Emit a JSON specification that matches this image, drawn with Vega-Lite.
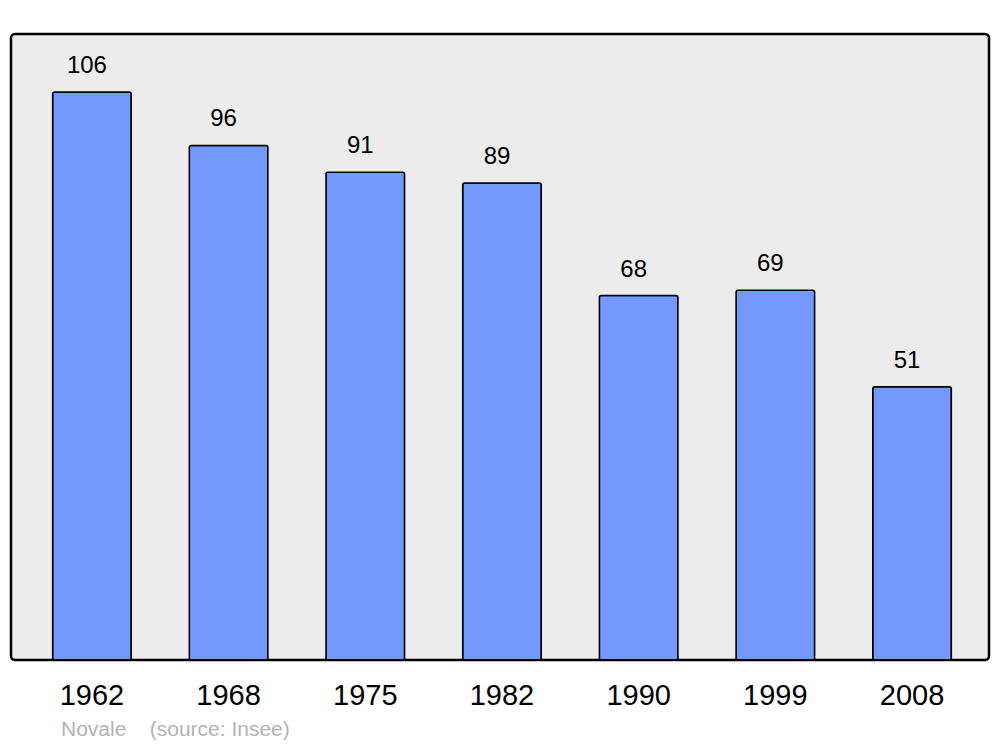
{
  "$schema": "https://vega.github.io/schema/vega-lite/v6.json",
  "width": 978,
  "height": 626,
  "autosize": {"type": "none"},
  "padding": {"left": 11, "top": 34, "right": 11, "bottom": 87},
  "background": "white",
  "data": {
    "values": [
      {"year": "1962", "pop": 106},
      {"year": "1968", "pop": 96},
      {"year": "1975", "pop": 91},
      {"year": "1982", "pop": 89},
      {"year": "1990", "pop": 68},
      {"year": "1999", "pop": 69},
      {"year": "2008", "pop": 51}
    ]
  },
  "title": {
    "text": "Novale\u00a0\u00a0\u00a0\u00a0(source: Insee)",
    "orient": "bottom",
    "anchor": "start",
    "font": "Liberation Sans",
    "fontSize": 21,
    "fontWeight": "normal",
    "color": "#b3b3b3",
    "dx": 50,
    "offset": 9
  },
  "config": {
    "view": {"fill": "#ececec", "stroke": "black", "strokeWidth": 2.5, "cornerRadius": 4},
    "font": "Liberation Sans"
  },
  "encoding": {
    "x": {
      "field": "year",
      "type": "ordinal",
      "scale": {"paddingInner": 0.425, "paddingOuter": 0.29, "align": 0.525},
      "axis": {
        "title": null,
        "ticks": false,
        "domain": false,
        "labelAngle": 0,
        "labelFont": "Liberation Sans",
        "labelFontSize": 29,
        "labelColor": "black",
        "labelBaseline": "alphabetic",
        "labelPadding": 44
      }
    },
    "y": {
      "field": "pop",
      "type": "quantitative",
      "scale": {"domain": [0, 116.8], "nice": false},
      "axis": null
    }
  },
  "layer": [
    {
      "mark": {"type": "bar", "fill": "#7399ff", "stroke": "black", "strokeWidth": 1.5, "cornerRadius": 2}
    },
    {
      "mark": {"type": "text", "baseline": "alphabetic", "dy": -19, "dx": -5, "fontSize": 24, "font": "Liberation Sans", "color": "black"},
      "encoding": {"text": {"field": "pop", "type": "quantitative"}}
    }
  ]
}
